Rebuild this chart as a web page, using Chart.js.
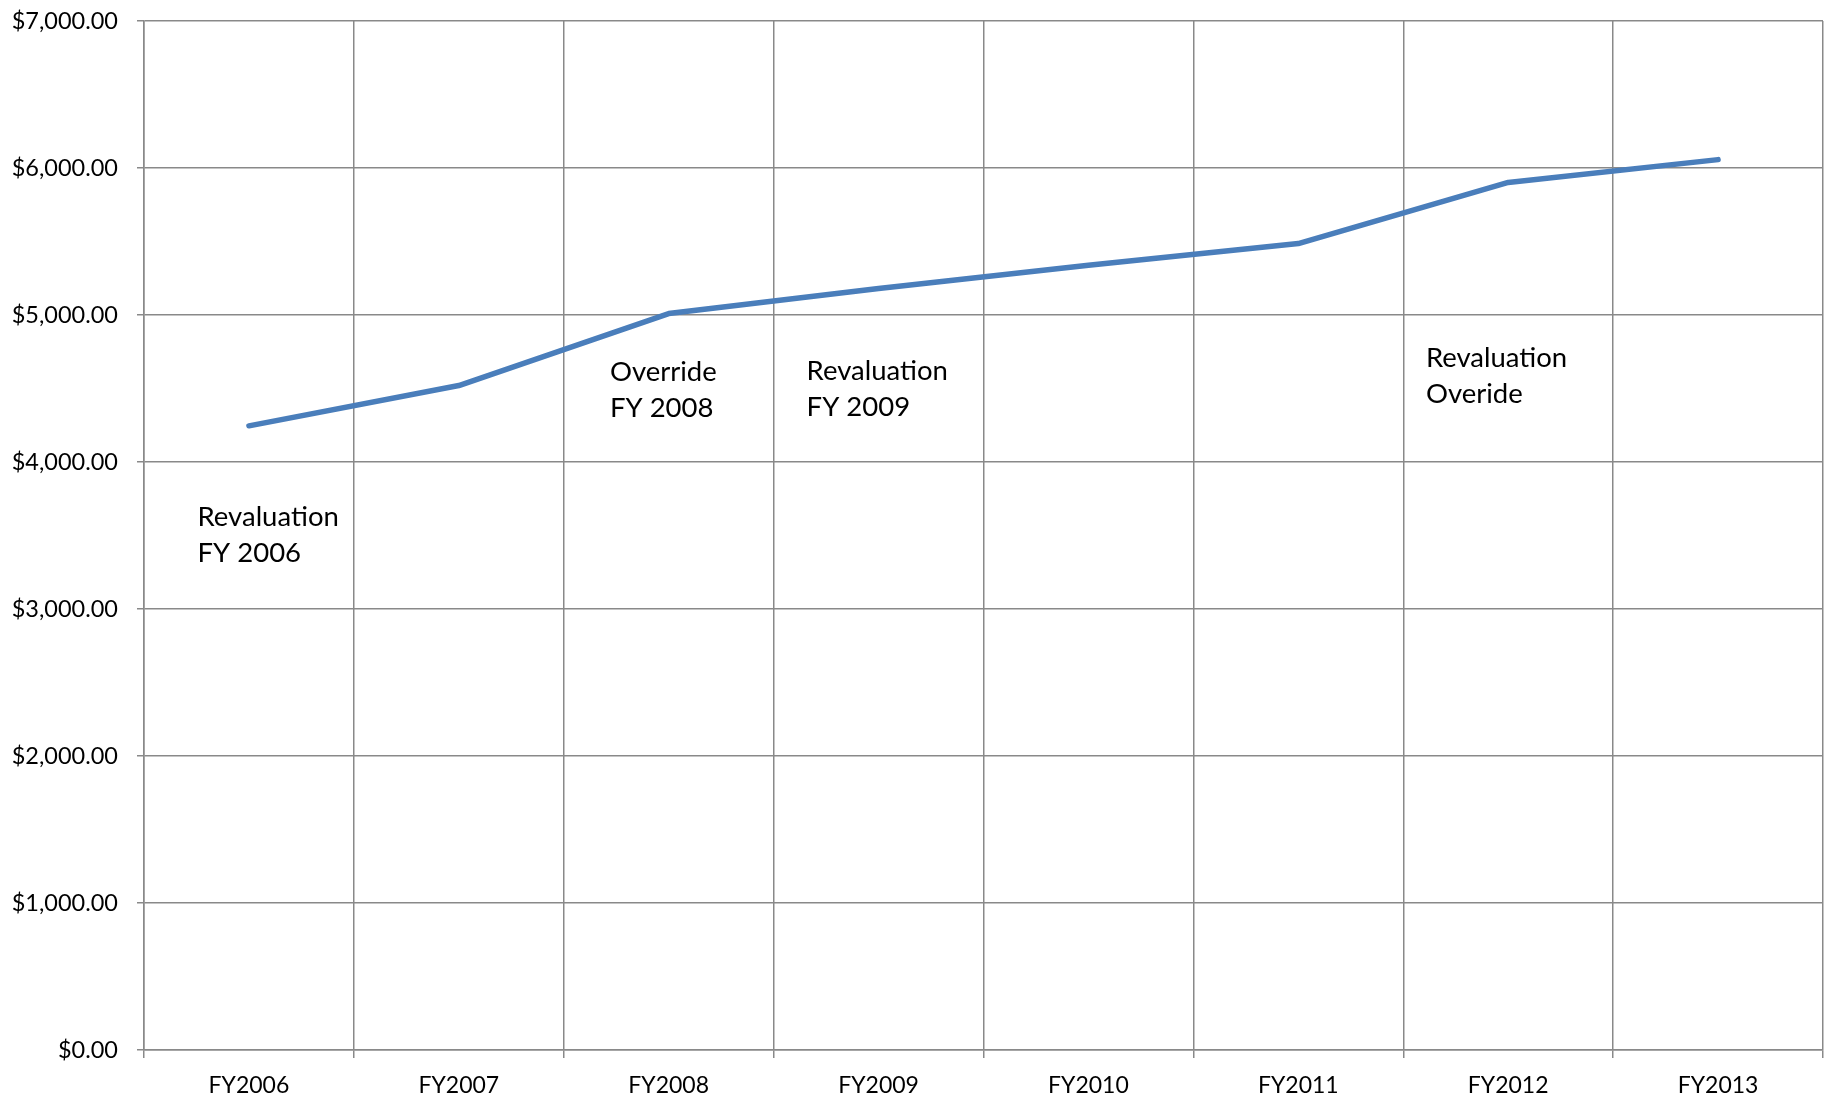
<!DOCTYPE html>
<html>
<head>
<meta charset="utf-8">
<title>Tax bill by fiscal year</title>
<script src="https://cdn.jsdelivr.net/npm/chart.js@4/dist/chart.umd.min.js"></script>
<style>
  html, body { margin: 0; padding: 0; background: #ffffff; }
  #wrap { width: 1833px; height: 1102px; }
</style>
</head>
<body>
<div id="wrap"><canvas id="c" width="1833" height="1102"></canvas></div>
<script>
// Fiscal years on the category axis
const fiscalYears = ['FY2006', 'FY2007', 'FY2008', 'FY2009', 'FY2010', 'FY2011', 'FY2012', 'FY2013'];
// Amount for each fiscal year (dollars)
const amounts = [4246, 4520, 5010, 5180, 5338, 5486, 5902, 6057];
// Value axis range and step
const axisMin = 0;
const axisMax = 7000;
const axisStep = 1000;

// Notes placed on the plot, anchored in data units (category index, dollar value of first line)
const noteLines = [
  ['Revaluation', 'FY 2006'],
  ['Override', 'FY 2008'],
  ['Revaluation', 'FY 2009'],
  ['Revaluation', 'Overide']
];
const noteAnchorIndex = [-0.245, 1.72, 2.657, 5.608];
const noteAnchorValue = [3627, 4613, 4620, 4706];

const GRID = '#898989';
const TEXT = '#000000';
const FONT = 'Lato, "Open Sans", "DejaVu Sans", sans-serif';

const money = v => '$' + Number(v).toLocaleString('en-US', { minimumFractionDigits: 2, maximumFractionDigits: 2 });

// Draws the multi-line notes through the chart's own scales
const notesPlugin = {
  id: 'notes',
  afterDatasetsDraw(chart) {
    const { ctx, scales } = chart;
    const x = scales.x, y = scales.y;
    ctx.save();
    ctx.fillStyle = TEXT;
    ctx.font = '27.5px ' + FONT;
    ctx.textAlign = 'left';
    ctx.textBaseline = 'middle';
    const lineGap = 36;
    noteLines.forEach((lines, i) => {
      const px = x.getPixelForValue(noteAnchorIndex[i]);
      const py = y.getPixelForValue(noteAnchorValue[i]);
      lines.forEach((t, k) => ctx.fillText(t, px, py + k * lineGap));
    });
    ctx.restore();
  }
};

new Chart(document.getElementById('c'), {
  type: 'line',
  data: {
    labels: fiscalYears,
    datasets: [{
      data: amounts,
      borderColor: '#4a7ebb',
      borderWidth: 5.5,
      borderCapStyle: 'round',
      borderJoinStyle: 'round',
      pointRadius: 0,
      pointHoverRadius: 0,
      fill: false,
      tension: 0
    }]
  },
  options: {
    responsive: false,
    devicePixelRatio: 1,
    animation: false,
    layout: { padding: { left: 0, right: 10, top: 21, bottom: 0 } },
    plugins: {
      legend: { display: false },
      tooltip: { enabled: false },
      title: { display: false }
    },
    scales: {
      x: {
        type: 'category',
        offset: true,
        grid: {
          offset: true,
          color: GRID,
          lineWidth: 1.5,
          tickLength: 8,
          drawTicks: true
        },
        border: { color: GRID, width: 1.5 },
        ticks: {
          color: TEXT,
          font: { family: FONT, size: 23 },
          padding: 14,
          maxRotation: 0,
          autoSkip: false
        },
        afterFit(s) {
          s.height = 52;
          s.paddingLeft = 0;
          s.paddingRight = 0;
        }
      },
      y: {
        min: axisMin,
        max: axisMax,
        grid: {
          color: GRID,
          lineWidth: 1.5,
          tickLength: 7,
          drawTicks: true
        },
        border: { color: GRID, width: 1.5 },
        ticks: {
          stepSize: axisStep,
          color: TEXT,
          font: { family: FONT, size: 23.5 },
          padding: 19,
          callback: v => money(v)
        },
        afterFit(s) {
          s.width = 144;
          s.paddingTop = 0;
          s.paddingBottom = 0;
        }
      }
    }
  },
  plugins: [notesPlugin]
});
</script>
</body>
</html>
